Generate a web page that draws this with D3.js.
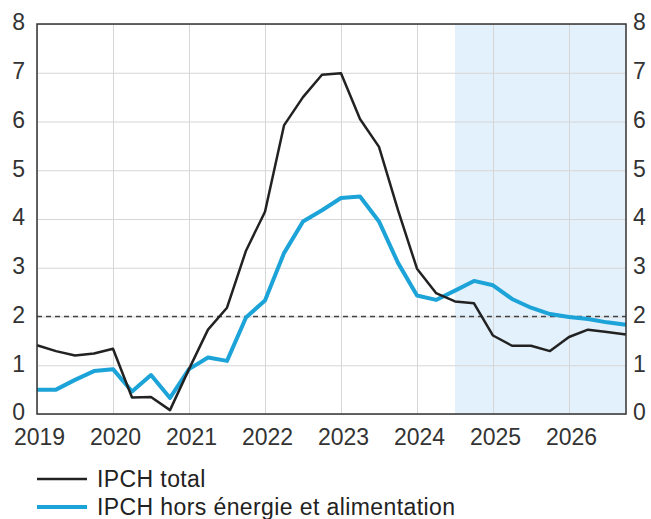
<!DOCTYPE html>
<html>
<head>
<meta charset="utf-8">
<script src="https://cdn.jsdelivr.net/npm/d3@7"></script>
<style>
  body { margin: 0; background: #fff; }
  text { font-family: "Liberation Sans", Arial, sans-serif; }
  .tick text { font-size: 23px; fill: #333; }
  .grid line { stroke: #d6d6d6; stroke-width: 1; }
  .grid path { display: none; }
</style>
</head>
<body>
<script>
// quarterly data, 2019 Q1 -> 2026 Q4
var quarters = [];
for (var yr = 2019; yr <= 2026; yr++) {
  for (var q = 1; q <= 4; q++) quarters.push(yr + "T" + q);
}
var years = [2019, 2020, 2021, 2022, 2023, 2024, 2025, 2026];
var yTicks = [0, 1, 2, 3, 4, 5, 6, 7, 8];
var projStart = "2024T3";
var target = 2;

var ipchTotal = [1.41, 1.29, 1.20, 1.24, 1.34, 0.34, 0.35, 0.08,
                 0.92, 1.73, 2.18, 3.35, 4.15, 5.92, 6.50, 6.96,
                 6.99, 6.05, 5.48, 4.18, 2.98, 2.48, 2.31, 2.27,
                 1.61, 1.40, 1.40, 1.29, 1.58, 1.73, 1.68, 1.63];
var ipchCore = [0.50, 0.50, 0.70, 0.88, 0.92, 0.46, 0.80, 0.33,
                0.92, 1.16, 1.09, 1.98, 2.33, 3.30, 3.95, 4.18,
                4.43, 4.46, 3.95, 3.10, 2.43, 2.34, 2.53, 2.73,
                2.64, 2.36, 2.18, 2.05, 1.99, 1.95, 1.88, 1.83];
var seriesNames = ["IPCH total", "IPCH hors énergie et alimentation"];
var seriesColors = ["#222222", "#1ca3d8"];

var svgWidth = 651, svgHeight = 519;
var margin = {left: 37, right: 25, top: 24, bottom: 105};
var width = svgWidth - margin.left - margin.right;
var height = svgHeight - margin.top - margin.bottom;

var svg = d3.select("body").append("svg")
  .attr("width", svgWidth)
  .attr("height", svgHeight);

var chart = svg.append("g")
  .attr("transform", `translate(${margin.left}, ${margin.top})`);

var x = d3.scaleLinear().domain([0, quarters.length - 1]).range([0, width]);
var y = d3.scaleLinear().domain([0, 8]).range([height, 0]);
var yearIdx = years.map(function(yv) { return quarters.indexOf(yv + "T1"); });

// projection shading
var p0 = quarters.indexOf(projStart);
chart.append("rect")
  .attr("x", x(p0))
  .attr("y", 0)
  .attr("width", x(quarters.length - 1) - x(p0))
  .attr("height", height)
  .attr("fill", "#e2f1fb");

// gridlines
chart.append("g").attr("class", "grid")
  .call(d3.axisLeft(y).tickValues(yTicks).tickSize(-width).tickFormat(""));
chart.append("g").attr("class", "grid")
  .call(d3.axisBottom(x).tickValues(yearIdx).tickSize(height).tickFormat(""));

// target line
chart.append("line")
  .attr("x1", 0).attr("x2", width)
  .attr("y1", y(target)).attr("y2", y(target))
  .attr("stroke", "#444")
  .attr("stroke-width", 1.4)
  .attr("stroke-dasharray", "5,4");

// lines
var line = d3.line()
  .x(function(d, i) { return x(i); })
  .y(function(d) { return y(d); });

chart.append("path")
  .datum(ipchCore)
  .attr("fill", "none")
  .attr("stroke", seriesColors[1])
  .attr("stroke-width", 4)
  .attr("stroke-linejoin", "round")
  .attr("d", line);

chart.append("path")
  .datum(ipchTotal)
  .attr("fill", "none")
  .attr("stroke", seriesColors[0])
  .attr("stroke-width", 2.5)
  .attr("stroke-linejoin", "round")
  .attr("d", line);

// frame
chart.append("rect")
  .attr("width", width).attr("height", height)
  .attr("fill", "none")
  .attr("stroke", "#333")
  .attr("stroke-width", 1.5);

// axes
var xAxis = chart.append("g")
  .attr("transform", `translate(0, ${height})`)
  .call(d3.axisBottom(x).tickValues(yearIdx).tickSize(0).tickPadding(15)
    .tickFormat(function(d) { return quarters[d].slice(0, 4); }));
xAxis.select(".domain").remove();
xAxis.selectAll("text").attr("dy", "0.71em").attr("x", 2);

var yLeft = chart.append("g")
  .call(d3.axisLeft(y).tickValues(yTicks).tickSize(0).tickPadding(12));
yLeft.select(".domain").remove();
yLeft.selectAll("text").attr("dy", "0.25em");

var yRight = chart.append("g")
  .attr("transform", `translate(${width}, 0)`)
  .call(d3.axisRight(y).tickValues(yTicks).tickSize(0).tickPadding(7));
yRight.select(".domain").remove();
yRight.selectAll("text").attr("dy", "0.25em");

// legend
var legend = svg.append("g").attr("transform", "translate(37, 479)");
seriesNames.forEach(function(name, i) {
  var g = legend.append("g").attr("transform", `translate(0, ${i * 28})`);
  g.append("line")
    .attr("x1", 0).attr("x2", 50)
    .attr("stroke", seriesColors[i])
    .attr("stroke-width", i === 0 ? 2.5 : 4);
  g.append("text")
    .attr("x", 60).attr("y", 7.5)
    .attr("font-size", 23)
    .attr("letter-spacing", 0.4)
    .attr("fill", "#222")
    .text(name);
});
</script>
</body>
</html>
